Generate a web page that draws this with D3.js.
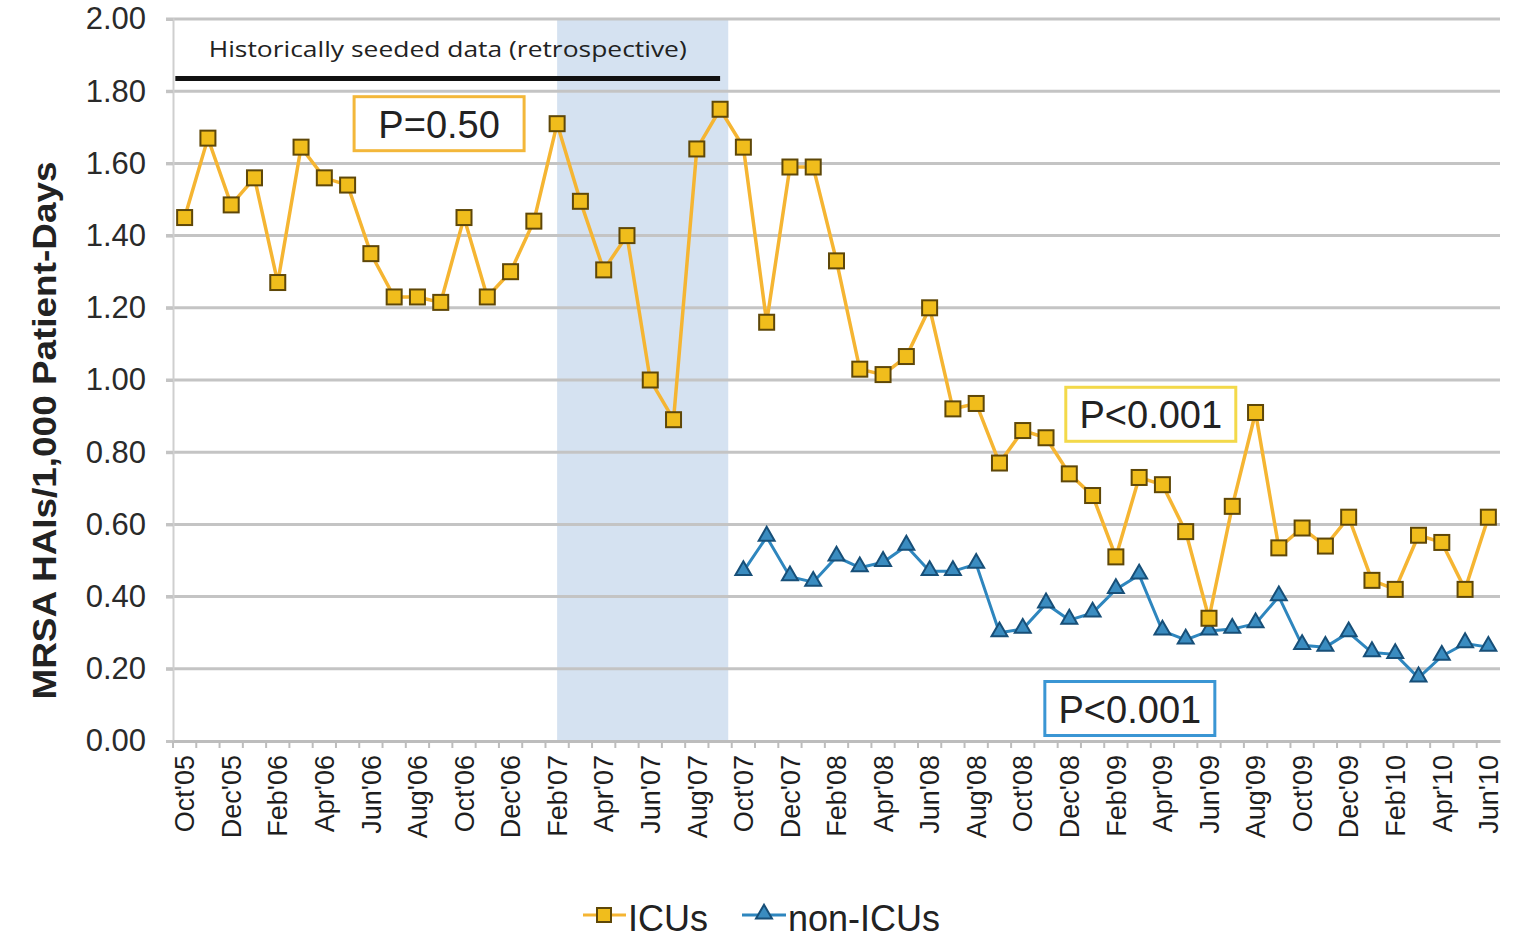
<!DOCTYPE html>
<html>
<head>
<meta charset="utf-8">
<script src="https://cdnjs.cloudflare.com/ajax/libs/d3/7.8.5/d3.min.js"></script>
<style>
    body { margin: 0; background: #fff; }
    text { font-family: "Liberation Sans", Arial, sans-serif; }
</style>
</head>
<body>
<div id="chart"></div>
<script>
(function () {
    var width = 1515,
        height = 945;

    // months Oct'05 .. Jun'10
    var months = ["Oct'05", "Nov'05", "Dec'05", "Jan'06", "Feb'06", "Mar'06", "Apr'06", "May'06", "Jun'06",
        "Jul'06", "Aug'06", "Sep'06", "Oct'06", "Nov'06", "Dec'06", "Jan'07", "Feb'07", "Mar'07", "Apr'07",
        "May'07", "Jun'07", "Jul'07", "Aug'07", "Sep'07", "Oct'07", "Nov'07", "Dec'07", "Jan'08", "Feb'08",
        "Mar'08", "Apr'08", "May'08", "Jun'08", "Jul'08", "Aug'08", "Sep'08", "Oct'08", "Nov'08", "Dec'08",
        "Jan'09", "Feb'09", "Mar'09", "Apr'09", "May'09", "Jun'09", "Jul'09", "Aug'09", "Sep'09", "Oct'09",
        "Nov'09", "Dec'09", "Jan'10", "Feb'10", "Mar'10", "Apr'10", "May'10", "Jun'10"];

    // every other month gets a label
    var tickLabels = months.filter(function (d, i) { return i % 2 === 0 });

    var yTicks = [0, 0.2, 0.4, 0.6, 0.8, 1.0, 1.2, 1.4, 1.6, 1.8, 2.0];

    var icuValues = [1.45, 1.67, 1.485, 1.56, 1.27, 1.645, 1.56, 1.54, 1.35, 1.23, 1.23, 1.215,
        1.45, 1.23, 1.30, 1.44, 1.71, 1.495, 1.305, 1.40, 1.00, 0.89, 1.64, 1.75,
        1.645, 1.16, 1.59, 1.59, 1.33, 1.03, 1.015, 1.065, 1.20, 0.92, 0.935, 0.77,
        0.86, 0.84, 0.74, 0.68, 0.51, 0.73, 0.71, 0.58, 0.34, 0.65, 0.91, 0.535,
        0.59, 0.54, 0.62, 0.445, 0.42, 0.57, 0.55, 0.42, 0.62];

    // non-ICU starts Oct'07
    var nonIcuStart = "Oct'07";
    var nonIcuValues = [0.47, 0.565, 0.455, 0.44, 0.51, 0.48, 0.495, 0.54, 0.47, 0.47, 0.49,
        0.30, 0.31, 0.38, 0.335, 0.355, 0.42, 0.46, 0.305, 0.28, 0.305, 0.31,
        0.325, 0.40, 0.265, 0.26, 0.30, 0.245, 0.24, 0.175, 0.235, 0.27, 0.26];

    var icuColor = "#f5b532",
        nonIcuColor = "#2e86be";

    var svg = d3.select("#chart")
        .append("svg")
        .attr("height", height)
        .attr("width", width)

    var x = d3.scaleBand().domain(months).range([173, 1500]).padding(0)
    var y = d3.scaleLinear().domain([0, 2]).range([741, 19])

    // fractional month index -> pixel
    function xIdx(i) {
        return x.range()[0] + x.step() * (i + 0.5)
    }
    function xm(m) {
        return x(m) + x.bandwidth() / 2
    }

    // shaded block Feb'07 .. just past Sep'07
    svg.append("rect")
        .attr("x", xIdx(16))
        .attr("width", xIdx(23.35) - xIdx(16))
        .attr("y", y(2))
        .attr("height", y(0) - y(2))
        .attr("fill", "#d5e2f1")

    // gridlines
    svg.selectAll(".grid")
        .data(yTicks.slice(1))
        .enter().append("line")
        .attr("class", "grid")
        .attr("x1", x.range()[0] - 7)
        .attr("x2", x.range()[1])
        .attr("y1", function (d) { return y(d) })
        .attr("y2", function (d) { return y(d) })
        .style("stroke", "#c4c4c4")
        .style("stroke-width", 3)

    // y axis
    var yAxis = svg.append("g")
        .attr("transform", "translate(" + x.range()[0] + ",0)")
        .call(d3.axisLeft(y).tickValues(yTicks).tickFormat(d3.format(".2f")).tickSize(7).tickPadding(20))
    yAxis.select(".domain").style("stroke", "#cfcfcf").style("stroke-width", 2)
    yAxis.selectAll(".tick line").style("stroke", "#c4c4c4").style("stroke-width", 3)
    yAxis.selectAll("text")
        .style("font-size", "31px")
        .style("fill", "#2a2a2a")

    // x axis
    var xAxis = svg.append("g")
        .attr("transform", "translate(0," + y(0) + ")")
        .call(d3.axisBottom(x).tickValues(months).tickSize(7).tickSizeOuter(0))
    xAxis.select(".domain").style("stroke", "#bdbdbd").style("stroke-width", 3)
    xAxis.selectAll(".tick line")
        .attr("transform", "translate(" + (-x.bandwidth() / 2) + ",0)")
        .style("stroke", "#bdbdbd").style("stroke-width", 2)
    xAxis.selectAll(".tick text")
        .text(function (d) { return tickLabels.indexOf(d) >= 0 ? d : "" })
        .attr("transform", "rotate(-90)")
        .attr("x", -14)
        .attr("y", 0)
        .attr("dy", "0.36em")
        .style("text-anchor", "end")
        .style("font-size", "27px")
        .style("fill", "#1e1e1e")

    // y title
    svg.append("text")
        .attr("transform", "translate(56," + y(0.86) + ") rotate(-90)")
        .attr("text-anchor", "middle")
        .attr("textLength", 538)
        .attr("lengthAdjust", "spacingAndGlyphs")
        .style("font-size", "33px")
        .style("font-weight", "bold")
        .style("fill", "#222")
        .text("MRSA HAIs/1,000 Patient-Days")

    // historical bracket
    svg.append("text")
        .attr("x", xIdx(11.3))
        .attr("y", y(1.895))
        .attr("text-anchor", "middle")
        .attr("textLength", 478)
        .attr("lengthAdjust", "spacingAndGlyphs")
        .style("font-family", "'Open Sans', sans-serif")
        .style("font-size", "21px")
        .style("fill", "#222")
        .text("Historically seeded data (retrospective)")
    svg.append("line")
        .attr("x1", xIdx(-0.4))
        .attr("x2", xIdx(23))
        .attr("y1", y(1.835))
        .attr("y2", y(1.835))
        .style("stroke", "#111")
        .style("stroke-width", 5)

    var line = d3.line()
        .x(function (d) { return xm(d.m) })
        .y(function (d) { return y(d.v) })

    var icuData = icuValues.map(function (v, i) { return { m: months[i], v: v } })
    var s0 = months.indexOf(nonIcuStart)
    var nonIcuData = nonIcuValues.map(function (v, i) { return { m: months[s0 + i], v: v } })

    svg.append("path")
        .datum(nonIcuData)
        .attr("d", line)
        .attr("fill", "none")
        .style("stroke", nonIcuColor)
        .style("stroke-width", 3)

    svg.append("path")
        .datum(icuData)
        .attr("d", line)
        .attr("fill", "none")
        .style("stroke", icuColor)
        .style("stroke-width", 3.5)

    var tri = d3.symbol().type(d3.symbolTriangle).size(110)

    svg.selectAll(".tri")
        .data(nonIcuData)
        .enter().append("path")
        .attr("class", "tri")
        .attr("d", tri)
        .attr("transform", function (d) { return "translate(" + xm(d.m) + "," + (y(d.v) - 1) + ")" })
        .attr("fill", "#3a8cc0")
        .style("stroke", "#174f78")
        .style("stroke-width", 2)

    svg.selectAll(".sq")
        .data(icuData)
        .enter().append("rect")
        .attr("class", "sq")
        .attr("x", function (d) { return xm(d.m) - 7.5 })
        .attr("y", function (d) { return y(d.v) - 7.5 })
        .attr("width", 15)
        .attr("height", 15)
        .attr("fill", "#f0bd1c")
        .style("stroke", "#5e4708")
        .style("stroke-width", 2)

    // p-value boxes
    var pBoxes = [
        { label: "P=0.50", i: 10.93, v: 1.71, color: "#f3b73a" },
        { label: "P<0.001", i: 41.5, v: 0.905, color: "#f3d94a" },
        { label: "P<0.001", i: 40.6, v: 0.09, color: "#3a96d4" }
    ]
    var boxes = svg.selectAll(".pbox")
        .data(pBoxes)
        .enter().append("g")
        .attr("class", "pbox")
        .attr("transform", function (d) { return "translate(" + xIdx(d.i) + "," + y(d.v) + ")" })
    boxes.append("rect")
        .attr("x", -85)
        .attr("y", -27)
        .attr("width", 170)
        .attr("height", 54)
        .attr("fill", "#fff")
        .style("stroke", function (d) { return d.color })
        .style("stroke-width", 3)
    boxes.append("text")
        .attr("text-anchor", "middle")
        .attr("y", 14)
        .style("font-size", "38px")
        .style("fill", "#222")
        .text(function (d) { return d.label })

    // legend
    var legend = svg.append("g").attr("transform", "translate(0,915)")
    legend.append("line").attr("x1", 583).attr("x2", 626)
        .style("stroke", icuColor).style("stroke-width", 3)
    legend.append("rect").attr("x", 597).attr("y", -7).attr("width", 14).attr("height", 14)
        .attr("fill", "#f0bd1c").style("stroke", "#5e4708").style("stroke-width", 2)
    legend.append("text").attr("x", 628).attr("y", 16)
        .style("font-size", "36px").style("fill", "#222").text("ICUs")
    legend.append("line").attr("x1", 742).attr("x2", 786)
        .style("stroke", nonIcuColor).style("stroke-width", 3)
    legend.append("path").attr("d", tri).attr("transform", "translate(764,-1)")
        .attr("fill", "#3a8cc0").style("stroke", "#174f78").style("stroke-width", 2)
    legend.append("text").attr("x", 788).attr("y", 16)
        .style("font-size", "36px").style("fill", "#222").text("non-ICUs")

})();
</script>
</body>
</html>
